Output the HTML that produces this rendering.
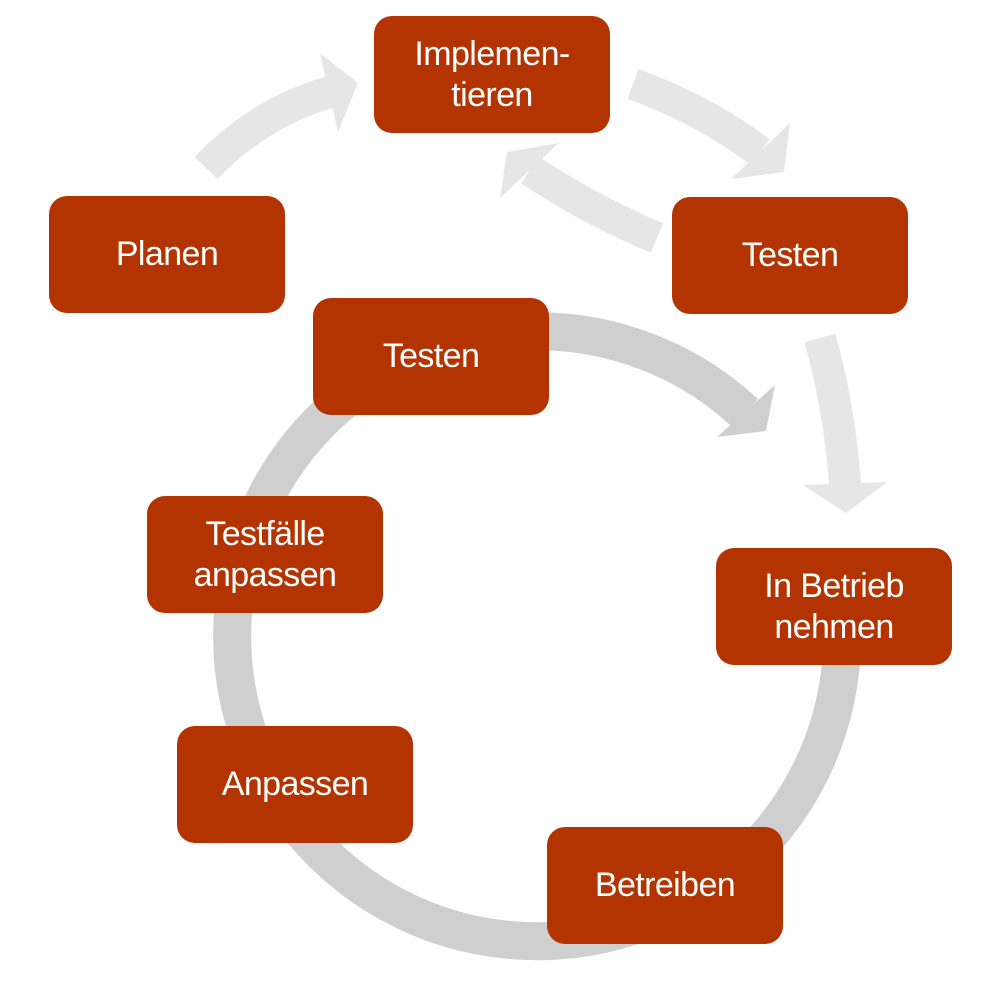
<!DOCTYPE html>
<html><head><meta charset="utf-8"><style>
body{margin:0;width:996px;height:999px;background:#fff;position:relative;overflow:hidden;font-family:"Liberation Sans",sans-serif}
.b{position:absolute;width:236px;height:117px;background:#B33400;border-radius:18px;color:#fff;display:flex;align-items:center;justify-content:center;text-align:center;font-size:34px;line-height:41px;letter-spacing:-0.6px}
svg{position:absolute;left:0;top:0}
</style></head><body>
<svg width="996" height="999">
<path d="M833 562 A305 305 0 1 1 745 413" fill="none" stroke="#CFCFCF" stroke-width="38"/>
<polygon points="775,385 766,431 717,437" fill="#CFCFCF"/>
<g fill="none" stroke="#E6E6E6" stroke-width="32">
<path d="M206 168 Q260 112 330 92"/>
<path d="M633 84 Q705 110 760 152"/>
<path d="M657 238 Q590 210 530 170"/>
<path d="M820 338 Q840 410 845 486"/>
</g>
<g fill="#E6E6E6">
<polygon points="320,53 358,83 338,132"/>
<polygon points="790,123 784,172 731,179"/>
<polygon points="559,143 507,152 500,198"/>
<polygon points="803,485 887,482 846,513"/>
</g>
</svg>
<div class="b" style="left:374px;top:16px">Implemen-<br>tieren</div>
<div class="b" style="left:49px;top:196px">Planen</div>
<div class="b" style="left:672px;top:197px">Testen</div>
<div class="b" style="left:313px;top:298px">Testen</div>
<div class="b" style="left:147px;top:496px">Testfälle<br>anpassen</div>
<div class="b" style="left:716px;top:548px">In Betrieb<br>nehmen</div>
<div class="b" style="left:177px;top:726px">Anpassen</div>
<div class="b" style="left:547px;top:827px">Betreiben</div>
</body></html>
